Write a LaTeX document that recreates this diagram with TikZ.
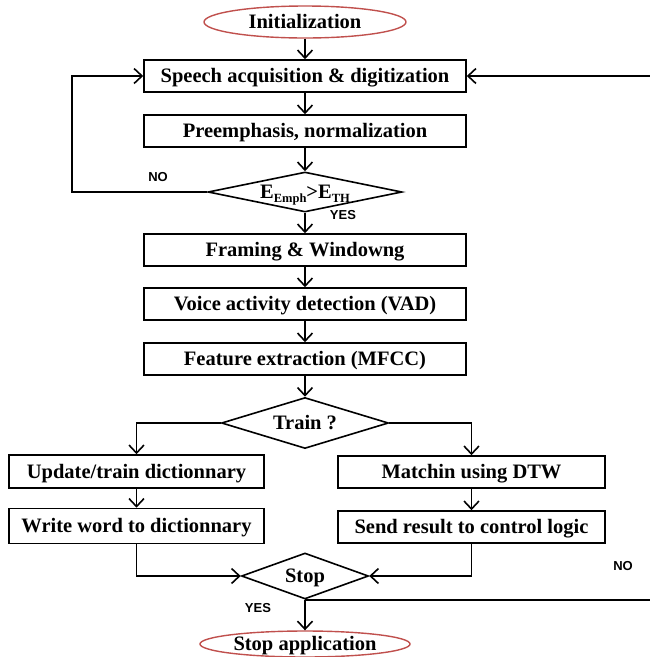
\documentclass[tikz,border=0pt]{standalone}
\usepackage{fontspec}
\setmainfont{Liberation Serif}
\newfontfamily\labfont{Liberation Sans}
\usetikzlibrary{shapes.geometric,arrows.meta}
\definecolor{ellred}{RGB}{192,80,77}
\begin{document}
\begin{tikzpicture}[x=1pt,y=-1pt,
  txt/.style={font=\fontsize{20.5}{22}\selectfont\bfseries,text height=15pt,text depth=2pt},
  box/.style={txt,draw,line width=1.6pt,minimum width=322pt,minimum height=32pt,inner sep=0pt},
  dia/.style={txt,draw,line width=1.6pt,diamond,inner sep=0pt},
  ell/.style={txt,draw=ellred,line width=1.4pt,ellipse,inner sep=0pt,minimum width=202pt,minimum height=32pt},
  lbl/.style={font=\labfont\fontsize{13}{14}\selectfont\bfseries,inner sep=0pt},
  arr/.style={line width=1.6pt,-{Straight Barb[length=8pt,width=15pt]}}
]
\useasboundingbox (0,0) rectangle (650,657);

\node[ell] (init) at (305,22) {Initialization};
\node[box] (s1) at (305,76) {Speech acquisition \& digitization};
\node[box] (s2) at (305,131) {Preemphasis, normalization};
\node[dia,aspect=4.85,minimum width=194pt,minimum height=40pt] (d1) at (305,192)
  {E\raisebox{-4pt}{\fontsize{12.5}{13}\selectfont Emph}>E\raisebox{-4pt}{\fontsize{12.5}{13}\selectfont TH}};
\node[box] (s3) at (305,250) {Framing \& Windowng};
\node[box] (s4) at (305,304) {Voice activity detection (VAD)};
\node[box] (s5) at (305,359) {Feature extraction (MFCC)};
\node[dia,aspect=3.3,minimum width=167pt,minimum height=51pt] (d2) at (305,423) {Train ?};
\node[box,minimum width=255pt,minimum height=33pt] (l1) at (136.5,471.5) {Update/train dictionnary};
\node[box,minimum width=255pt,minimum height=35pt] (l2) at (136.5,526) {Write word to dictionnary};
\node[box,minimum width=267pt] (r1) at (471.5,472) {Matchin using DTW};
\node[box,minimum width=267pt] (r2) at (471.5,527) {Send result to control logic};
\node[dia,aspect=2.76,minimum width=127pt,minimum height=46pt] (d3) at (305,576) {Stop};
\node[ell,minimum width=210pt,minimum height=26pt] (fin) at (305,644) {Stop application};

\node[lbl] (no1) at (158,177) {NO};
\node[lbl] (yes1) at (343,215) {YES};
\node[lbl] (no2) at (623,566) {NO};
\node[lbl] (yes2) at (258,608) {YES};

\coordinate (lp) at (72,192);
\coordinate (rp) at (656,599);

\draw[arr] (init) -- (s1);
\draw[arr] (s1) -- (s2);
\draw[arr] (s2) -- (d1);
\draw[arr] (d1) -- (s3);
\draw[arr] (s3) -- (s4);
\draw[arr] (s4) -- (s5);
\draw[arr] (s5) -- (d2);
\draw[arr] (d2.west) -| (l1.north);
\draw[arr] (d2.east) -| (r1.north);
\draw[arr] (l1) -- (l2);
\draw[arr] (r1) -- (r2);
\draw[arr] (l2.south) |- (d3.west);
\draw[arr] (r2.south) |- (d3.east);
\draw[arr] (d3) -- (fin);
\draw[arr] (d1.west) -- (d1.west -| lp) |- (s1.west);
\draw[arr] (d3.south) -- (d3.south -| rp) |- (s1.east);
\end{tikzpicture}
\end{document}
